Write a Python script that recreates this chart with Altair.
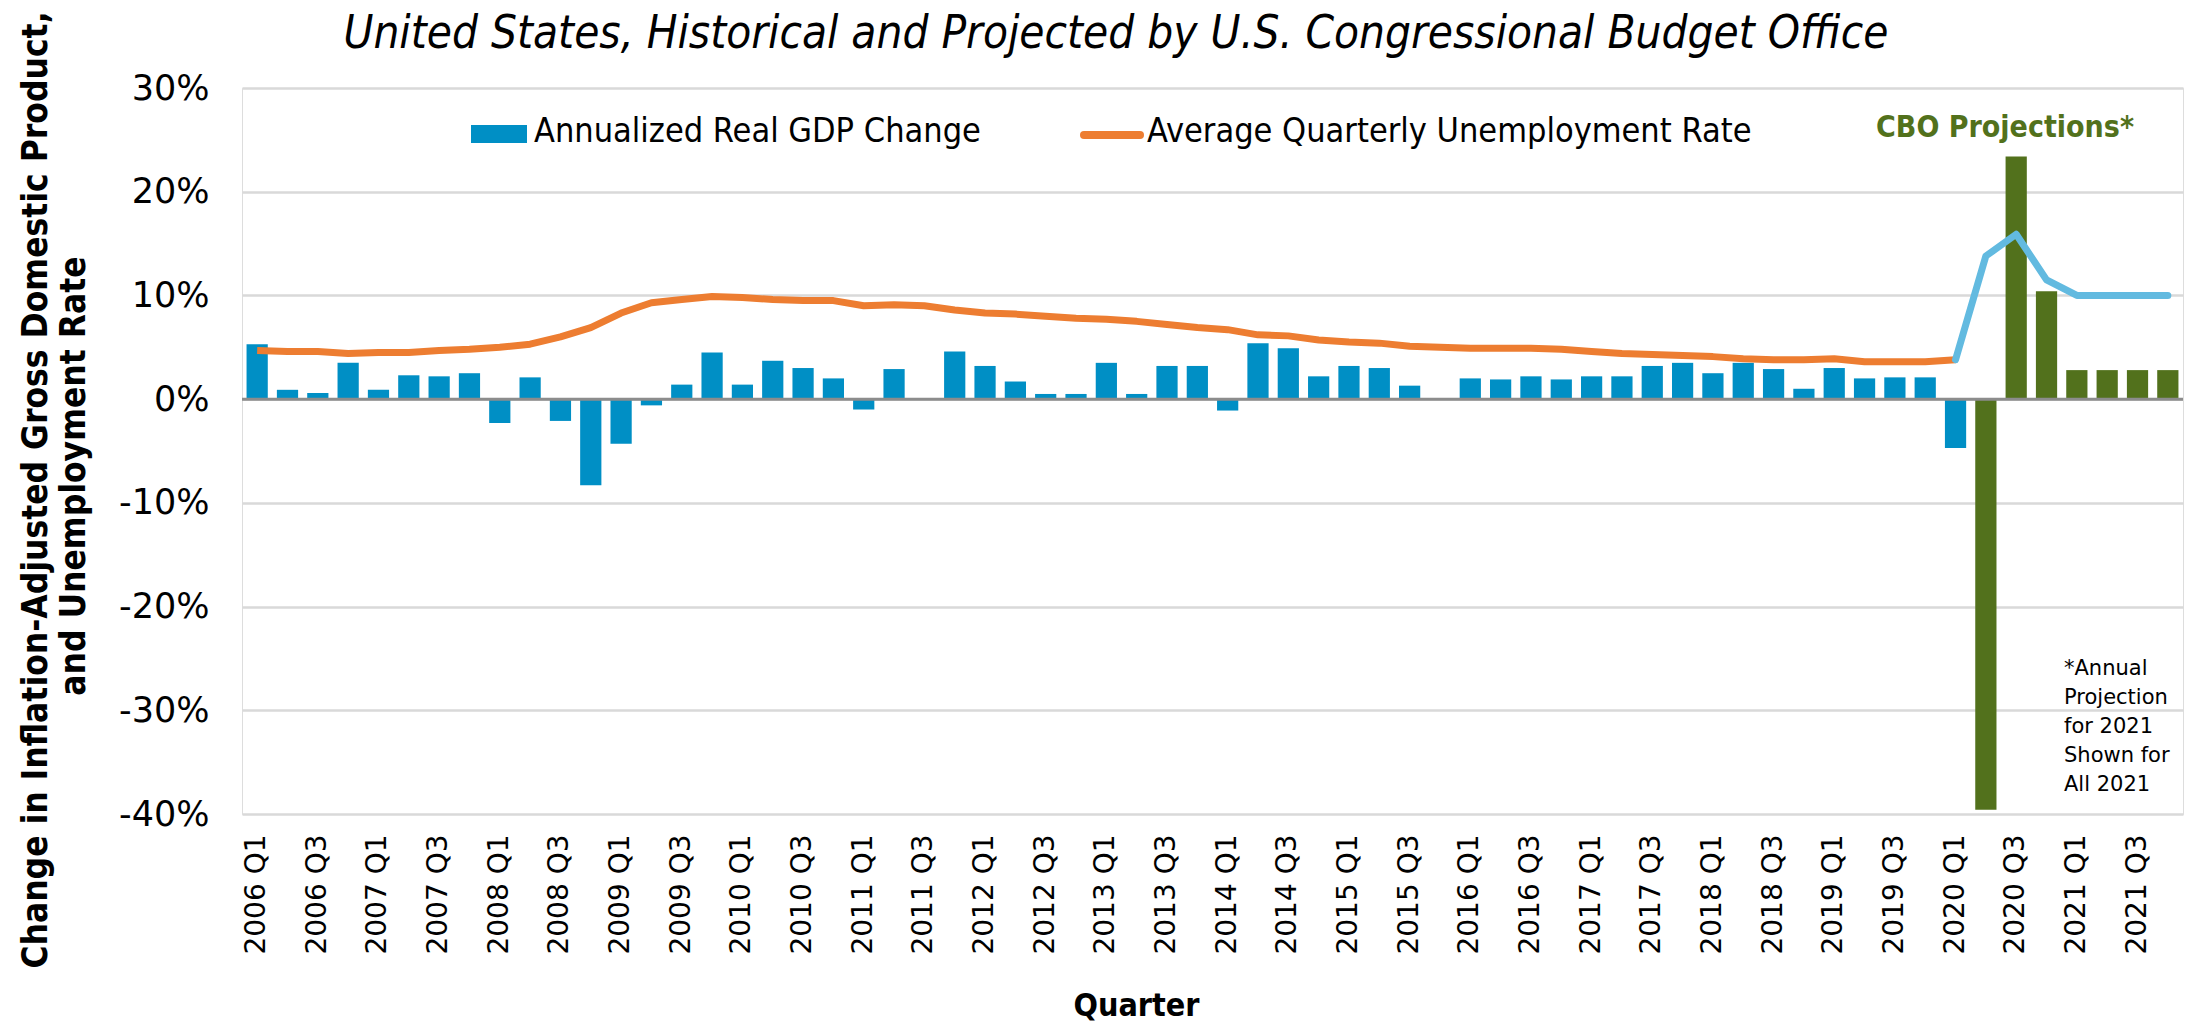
import altair as alt
import pandas as pd

# ---------------- data ----------------
quarters = [f"{y} Q{q}" for y in range(2006, 2022) for q in range(1, 5)]

gdp_change = [
    5.3, 0.9, 0.6, 3.5,      # 2006
    0.9, 2.3, 2.2, 2.5,      # 2007
    -2.3, 2.1, -2.1, -8.3,   # 2008
    -4.3, -0.6, 1.4, 4.5,    # 2009
    1.4, 3.7, 3.0, 2.0,      # 2010
    -1.0, 2.9, 0.0, 4.6,     # 2011
    3.2, 1.7, 0.5, 0.5,      # 2012
    3.5, 0.5, 3.2, 3.2,      # 2013
    -1.1, 5.4, 4.9, 2.2,     # 2014
    3.2, 3.0, 1.3, 0.1,      # 2015
    2.0, 1.9, 2.2, 1.9,      # 2016
    2.2, 2.2, 3.2, 3.5,      # 2017
    2.5, 3.5, 2.9, 1.0,      # 2018
    3.0, 2.0, 2.1, 2.1,      # 2019
    -4.7, -39.6, 23.4, 10.4, # 2020
    2.8, 2.8, 2.8, 2.8,      # 2021
]
bar_kind = ["Historical"] * 57 + ["Projected"] * 7

unemp_hist = [
    4.7, 4.6, 4.6, 4.4,
    4.5, 4.5, 4.7, 4.8,
    5.0, 5.3, 6.0, 6.9,
    8.3, 9.3, 9.6, 9.9,
    9.8, 9.6, 9.5, 9.5,
    9.0, 9.1, 9.0, 8.6,
    8.3, 8.2, 8.0, 7.8,
    7.7, 7.5, 7.2, 6.9,
    6.7, 6.2, 6.1, 5.7,
    5.5, 5.4, 5.1, 5.0,
    4.9, 4.9, 4.9, 4.8,
    4.6, 4.4, 4.3, 4.2,
    4.1, 3.9, 3.8, 3.8,
    3.9, 3.6, 3.6, 3.6,
    3.8,
]
unemp_proj = [3.8, 13.8, 15.9, 11.5, 10.0, 10.0, 10.0, 10.0]

label_quarters = [q for q in quarters if q.endswith("Q1") or q.endswith("Q3")]
y_ticks = [-40, -30, -20, -10, 0, 10, 20, 30]

title_text = "United States, Historical and Projected by U.S. Congressional Budget Office"
y_title_1 = "Change in Inflation-Adjusted Gross Domestic Product,"
y_title_2 = "and Unemployment Rate"
legend_bar_label = "Annualized Real GDP Change"
legend_line_label = "Average Quarterly Unemployment Rate"
proj_label = "CBO Projections*"
note_lines = ["*Annual", "Projection", "for 2021", "Shown for", "All 2021"]

# ---------------- tables ----------------
bars = pd.DataFrame({"quarter": quarters, "value": gdp_change, "kind": bar_kind})
line_hist = pd.DataFrame({"quarter": quarters[:len(unemp_hist)], "value": unemp_hist})
line_proj = pd.DataFrame({"quarter": quarters[len(unemp_hist) - 1:], "value": unemp_proj})
zero = pd.DataFrame({"value": [0]})
one = pd.DataFrame({"k": [0]})

BLUE = "#008FC5"
GREEN = "#52711C"
ORANGE = "#ED7D31"
LIGHTBLUE = "#62BAE0"
COND = "DejaVu Sans Condensed, Liberation Sans Narrow, sans-serif"
REG = "DejaVu Sans, Verdana, sans-serif"

x_scale = alt.Scale(domain=quarters, paddingInner=0.3, paddingOuter=0.15)
x_axis = alt.Axis(
    values=label_quarters, labelAngle=270, labelFont=REG, labelFontSize=28,
    labelColor="#000000", labelPadding=20, ticks=False, domain=False,
    title="Quarter", titleFont=COND, titleFontWeight="bold", titleFontSize=32,
    titleColor="#000000", titleX=894, titleY=191, titleBaseline="middle",
    titleAlign="center", grid=False,
)
y_scale = alt.Scale(domain=[-40, 30], nice=False, zero=False)
y_axis = alt.Axis(
    values=y_ticks, labelExpr="datum.value + '%'", labelFont=REG, labelFontSize=35,
    labelColor="#000000", labelPadding=33, ticks=False, domain=False,
    grid=True, gridColor="#D9D9D9", gridWidth=2.5, title=None,
)

X = alt.X("quarter:N", sort=quarters, scale=x_scale, axis=x_axis)
Y = alt.Y("value:Q", scale=y_scale, axis=y_axis)

bar_layer = alt.Chart(bars).mark_bar().encode(
    x=X, y=Y,
    color=alt.Color("kind:N", scale=alt.Scale(domain=["Historical", "Projected"], range=[BLUE, GREEN]), legend=None),
)

zero_layer = alt.Chart(zero).mark_rule(color="#8C8C8C", strokeWidth=3).encode(y=Y)

hist_layer = alt.Chart(line_hist).mark_line(color=ORANGE, strokeWidth=7, strokeJoin="round").encode(x=X, y=Y)
proj_layer = alt.Chart(line_proj).mark_line(color=LIGHTBLUE, strokeWidth=7, strokeJoin="round", strokeCap="round").encode(x=X, y=Y)

title_layer = alt.Chart(one).mark_text(
    text=title_text, font=COND, fontSize=45.5, fontStyle="italic", align="center", baseline="middle", color="#000000"
).encode(x=alt.value(874), y=alt.value(-54))

ytitle1 = alt.Chart(one).mark_text(
    text=y_title_1, font=COND, fontSize=35, fontWeight="bold", angle=270, align="center", baseline="middle", color="#000000"
).encode(x=alt.value(-206), y=alt.value(402))
ytitle2 = alt.Chart(one).mark_text(
    text=y_title_2, font=COND, fontSize=35, fontWeight="bold", angle=270, align="center", baseline="middle", color="#000000"
).encode(x=alt.value(-168), y=alt.value(388))

leg_rect = alt.Chart(one).mark_rect(color=BLUE).encode(
    x=alt.value(229), x2=alt.value(285), y=alt.value(37), y2=alt.value(55)
)
leg_rect_text = alt.Chart(one).mark_text(
    text=legend_bar_label, font=COND, fontSize=34, align="left", baseline="middle", color="#000000"
).encode(x=alt.value(292), y=alt.value(44))
leg_line = alt.Chart(one).mark_rule(color=ORANGE, strokeWidth=8, strokeCap="round").encode(
    x=alt.value(842), x2=alt.value(898), y=alt.value(47)
)
leg_line_text = alt.Chart(one).mark_text(
    text=legend_line_label, font=COND, fontSize=34, align="left", baseline="middle", color="#000000"
).encode(x=alt.value(905), y=alt.value(44))

proj_text = alt.Chart(one).mark_text(
    text=proj_label, font=COND, fontSize=30, fontWeight="bold", align="center", baseline="middle", color=GREEN
).encode(x=alt.value(1763), y=alt.value(40))

note_text = alt.Chart(one).mark_text(
    text=note_lines, font=REG, fontSize=21, lineHeight=29, align="left", baseline="top", color="#000000"
).encode(x=alt.value(1822), y=alt.value(570))

chart = alt.layer(
    bar_layer, zero_layer, hist_layer, proj_layer,
    title_layer, ytitle1, ytitle2, leg_rect, leg_rect_text, leg_line, leg_line_text, proj_text, note_text,
).properties(
    width=1941, height=726,
    autosize=alt.AutoSizeParams(type="none"),
    padding={"left": 234, "top": 80, "right": 4, "bottom": 208},
).configure_view(stroke=None).configure(background="#FFFFFF")

chart.save("out.html", embed_options={"renderer": "svg", "actions": False})
